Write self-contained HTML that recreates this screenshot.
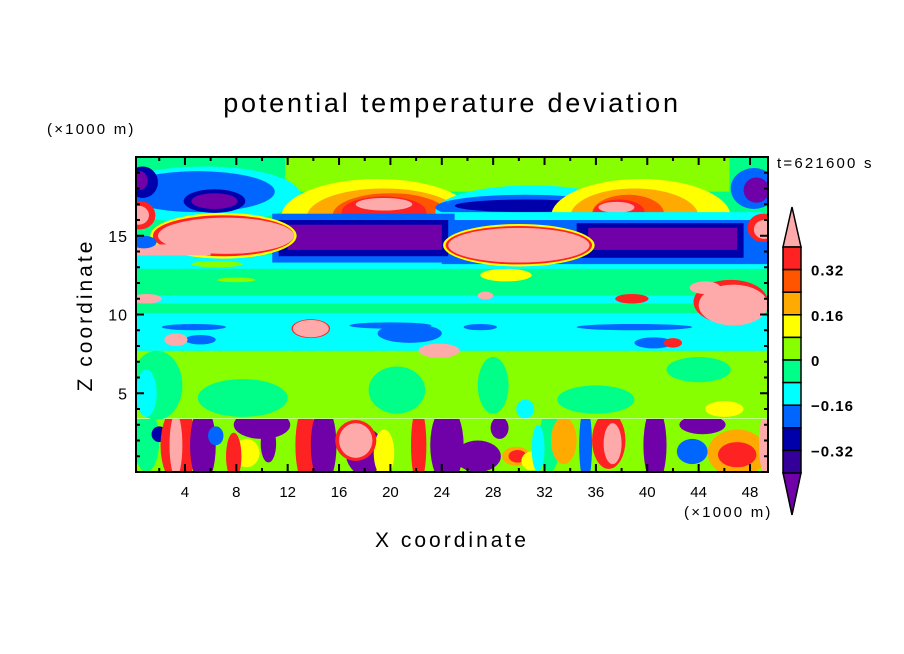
<!DOCTYPE html>
<html><head><meta charset="utf-8"><style>
html,body{margin:0;padding:0;background:#fff;}
svg{display:block;font-family:"Liberation Sans",sans-serif;}
</style></head><body>
<svg id="chart" width="904" height="654" viewBox="0 0 904 654" xmlns="http://www.w3.org/2000/svg">
<defs>
<clipPath id="plotClip"><rect x="136" y="157" width="632" height="315"/></clipPath>
<clipPath id="lowClip"><rect x="136" y="419" width="632" height="53"/></clipPath>
</defs>
<text x="452" y="112" font-size="27" text-anchor="middle" letter-spacing="2.8">potential temperature deviation</text>
<text x="47" y="134" font-size="15" letter-spacing="2.2">(×1000 m)</text>
<text x="777" y="168" font-size="15" letter-spacing="2.2">t=621600 s</text>
<text transform="translate(92,315) rotate(-90)" font-size="21" text-anchor="middle" letter-spacing="3">Z coordinate</text>
<text x="452" y="547" font-size="21" text-anchor="middle" letter-spacing="3">X coordinate</text>
<text x="684" y="517" font-size="15" letter-spacing="2.2">(×1000 m)</text>
<g id="field" clip-path="url(#plotClip)"></g>
<g id="lowField" clip-path="url(#lowClip)"></g>
<rect x="136" y="157" width="632" height="315" fill="none" stroke="#000" stroke-width="2"/>
<g id="axes"></g>
<g id="colorbar"></g>
</svg>
<script>
const levelKeys = ['P','R','O','A','Y','L','G','C','B','D','N','I'];
const levelColors = ['#ffaaaa','#ff2222','#ff5500','#ffaa00','#ffff00','#88ff00','#00ff88','#00ffff','#0066ff','#0000aa','#330099','#7000a8'];
const colorbarLabels = ['0.32','0.16','0','-0.16','-0.32'];
const colorbarLabelValues = [0.32,0.16,0,-0.16,-0.32];
const xTicks = [4,8,12,16,20,24,28,32,36,40,44,48];
const zTicks = [5,10,15];
// shapes: [x, z, halfWidth, halfHeight, kind, level]
const upperShapes = [
 [25,11.7,25,8.3,'r','G'],[25,5.55,25,2.15,'r','L'],
 [1.8,5.5,2.0,2.2,'e','G'],[1.0,5,0.8,1.5,'e','C'],[8.5,4.7,3.5,1.2,'e','G'],[20.5,5.2,2.2,1.5,'e','G'],
 [36,4.6,3,0.9,'e','G'],[30.5,4.0,0.7,0.6,'e','C'],[28,5.5,1.2,1.8,'e','G'],[44,6.5,2.5,0.8,'e','G'],[46,4.0,1.5,0.5,'e','Y'],
 [25,8.9,25,1.2,'r','C'],
 [4.7,9.2,2.5,0.2,'e','B'],[20,9.3,3.2,0.2,'e','B'],[21.5,8.8,2.5,0.6,'e','B'],[5.2,8.4,1.2,0.3,'e','B'],
 [27,9.2,1.3,0.2,'e','B'],[39,9.2,4.5,0.2,'e','B'],[40.5,8.2,1.5,0.35,'e','B'],
 [25,10.95,25,0.25,'r','C'],[25,13.35,25,0.45,'r','C'],
 [29.1,18.9,17.3,1.1,'r','L'],
 [5.5,17.6,7.5,1.8,'e','C'],[5.0,17.8,6.0,1.3,'e','B'],[6.3,17.2,2.4,0.75,'e','D'],[6.3,17.2,1.8,0.5,'e','I'],
 [0.7,18.4,1.2,1.0,'e','D'],[0.5,18.5,0.6,0.6,'e','I'],
 [19,16.2,7.5,2.4,'e','Y'],[19.5,16.2,6.0,1.8,'e','A'],[20,16.3,4.5,1.4,'e','O'],[19.5,16.5,3.3,1.0,'e','R'],[19.5,17.0,2.2,0.4,'e','P'],
 [31,16.5,7.5,1.7,'e','C'],[30.5,16.8,7,0.8,'e','B'],[30.5,16.9,5.5,0.4,'e','D'],
 [39.5,16.2,7,2.4,'e','Y'],[39,16.2,5,1.8,'e','A'],[38.5,16.4,2.8,1.2,'e','O'],[37.8,16.5,2.0,0.8,'e','R'],[37.6,16.8,1.4,0.35,'e','P'],
 [36.5,15.05,12.5,1.45,'r','C'],
 [36.7,14.6,12.7,1.4,'r','B'],[17.9,14.85,7.1,1.55,'r','B'],[17.9,14.85,6.6,1.15,'r','D'],[18,14.9,6,0.8,'r','I'],
 [41,14.7,6.5,1.1,'r','D'],[41.2,14.8,5.8,0.7,'r','I'],
 [7,15.0,5.7,1.45,'e','Y'],[7,15.0,5.5,1.3,'e','R'],[7.2,15.0,5.3,1.15,'e','P'],[3,14.1,3,0.35,'r','P'],
 [0.5,16.3,1.2,0.9,'e','R'],[0.4,16.3,0.8,0.6,'e','P'],[0.8,14.6,1,0.4,'e','B'],
 [30,14.4,5.9,1.35,'e','Y'],[30,14.4,5.7,1.22,'e','R'],[30,14.4,5.5,1.1,'e','P'],[29,12.5,2,0.4,'e','Y'],
 [48.3,18,1.8,1.3,'e','B'],[48.5,17.9,1,0.8,'e','I'],[49.0,15.5,1.2,0.9,'e','R'],[49.1,15.4,0.8,0.6,'e','P'],
 [46.5,10.8,2.9,1.4,'e','R'],[46.7,10.6,2.7,1.3,'e','P'],[44.5,11.7,1.2,0.4,'e','P'],
 [13.8,9.1,1.5,0.6,'e','R'],[13.8,9.1,1.4,0.55,'e','P'],[23.8,7.7,1.6,0.45,'e','P'],[3.3,8.4,0.9,0.4,'e','P'],
 [1.0,11.0,1.2,0.3,'e','P'],[27.4,11.2,0.6,0.25,'e','P'],[38.8,11.0,1.3,0.3,'e','R'],[42,8.2,0.7,0.3,'e','R'],
 [6.5,13.2,2,0.2,'e','L'],[8,12.2,1.5,0.15,'e','L']
];
const lowerShapes = [
 [25,1.7,25,1.8,'r','L'],
 [1.0,2,1,2,'e','G'],[2.0,2.4,0.6,0.5,'e','D'],[3.5,1.7,1.4,2.5,'e','R'],[3.3,1.7,0.5,2,'e','P'],
 [5.4,1.7,1.0,2.5,'e','I'],[6.4,2.3,0.6,0.6,'e','B'],[8.8,1.2,1.0,0.9,'e','Y'],[7.8,1.0,0.6,1.5,'e','R'],
 [10.0,3.0,2.2,0.9,'e','I'],[10.5,1.8,0.6,1.2,'e','I'],[13.4,1.7,0.8,2.5,'e','R'],[14.8,1.7,1.0,2.5,'e','I'],
 [18.0,1.3,1.5,1.5,'e','I'],[19.5,1.2,0.8,1.5,'e','Y'],[17.3,2.0,1.6,1.3,'e','R'],[17.3,2.0,1.3,1.1,'e','P'],
 [22.2,1.7,0.6,2.5,'e','R'],[24.4,1.7,1.3,2.5,'e','I'],[26.8,1.0,1.8,1.0,'e','I'],
 [29.8,1.0,1.1,0.6,'e','A'],[29.9,1.0,0.7,0.4,'e','R'],[28.5,2.8,0.7,0.7,'e','I'],[31.0,0.7,0.8,0.6,'e','Y'],
 [32.4,2,0.8,2,'e','G'],[31.5,1.5,0.5,1.5,'e','C'],[33.5,2.0,1.0,1.5,'e','A'],[35.2,1.7,0.5,2.5,'e','B'],
 [37.0,2.0,1.3,1.8,'e','R'],[37.3,1.8,0.7,1.3,'e','P'],[40.6,1.7,0.9,2.5,'e','I'],
 [43.5,1.3,1.2,0.8,'e','B'],[44.3,3.0,1.8,0.6,'e','I'],[47.0,1.2,2.3,1.5,'e','A'],[47.0,1.1,1.5,0.8,'e','R'],
 [49.2,1.8,0.5,2,'e','P']
];

const NS='http://www.w3.org/2000/svg';
const X0=136,X1=768,Y0=157,Y1=472,XMIN=0.19,XMAX=49.4,ZMIN=0,ZMAX=20;
function sx(x){return X0+(x-XMIN)/(XMAX-XMIN)*(X1-X0);}
function sz(z){return Y1-(z-ZMIN)/(ZMAX-ZMIN)*(Y1-Y0);}
function col(k){return levelColors[levelKeys.indexOf(k)];}
function mk(tag,attrs,parent){const e=document.createElementNS(NS,tag);for(const k in attrs)e.setAttribute(k,attrs[k]);parent.appendChild(e);return e;}
function drawShapes(list,g){
 list.forEach(s=>{
  const [x,z,w,h,kind,lev]=s;let e;
  if(kind==='r'){
   e=mk('rect',{x:sx(x-w),y:sz(z+h),width:sx(x+w)-sx(x-w),height:sz(z-h)-sz(z+h),fill:col(lev)},g);
  } else {
   e=mk('ellipse',{cx:sx(x),cy:sz(z),rx:sx(x+w)-sx(x),ry:sz(z-h)-sz(z),fill:col(lev)},g);
  }
  
  
 });
}
drawShapes(upperShapes,document.getElementById('field'));
drawShapes(lowerShapes,document.getElementById('lowField'));

const ax=document.getElementById('axes');
for(let x=2;x<=48;x+=2){
 const major=xTicks.includes(x);const L=major?8:4;
 const t1=mk('line',{x1:sx(x),x2:sx(x),y1:Y1,y2:Y1-L,stroke:'#000','stroke-width':2},ax);
 
 
 const t2=mk('line',{x1:sx(x),x2:sx(x),y1:Y0,y2:Y0+L,stroke:'#000','stroke-width':2},ax);
 
 
}
xTicks.forEach(x=>{
 const t=mk('text',{x:sx(x),y:497,'font-size':15,'text-anchor':'middle'},ax);t.textContent=x;
 
 
});
for(let z=1;z<=19;z++){
 const major=zTicks.includes(z);const L=major?8:4;
 const t1=mk('line',{x1:X0,x2:X0+L,y1:sz(z),y2:sz(z),stroke:'#000','stroke-width':2},ax);
 
 
 const t2=mk('line',{x1:X1,x2:X1-L,y1:sz(z),y2:sz(z),stroke:'#000','stroke-width':2},ax);
 
 
}
zTicks.forEach(z=>{
 const t=mk('text',{x:128,y:sz(z)+6,'font-size':16,'text-anchor':'end','letter-spacing':1},ax);t.textContent=z;
 
 
});

const cb=document.getElementById('colorbar');
const CBX=783,CBW=18,CBT=247,CBB=473,nBox=10,boxH=(CBB-CBT)/nBox;
const cbTop=mk('polygon',{points:`${CBX},${CBT} ${CBX+CBW/2},207 ${CBX+CBW},${CBT}`,fill:col('P'),stroke:'#000','stroke-width':1.5},cb);


const cbBot=mk('polygon',{points:`${CBX},${CBB} ${CBX+CBW/2},515 ${CBX+CBW},${CBB}`,fill:col('I'),stroke:'#000','stroke-width':1.5},cb);


const boxKeys=['R','O','A','Y','L','G','C','B','D','N'];
boxKeys.forEach((k,i)=>{
 const r=mk('rect',{x:CBX,y:CBT+i*boxH,width:CBW,height:boxH,fill:col(k),stroke:'#000','stroke-width':1.5},cb);
 
 
});
colorbarLabels.forEach((lab,i)=>{
 const v=colorbarLabelValues[i];
 const y=CBT+(0.40-v)/0.08*boxH;
 const t=mk('text',{x:811,y:y+6,'font-size':15,'font-weight':'bold','letter-spacing':1},cb);t.textContent=lab.replace('-','\u2212');
 
 
});
</script>
</body></html>
